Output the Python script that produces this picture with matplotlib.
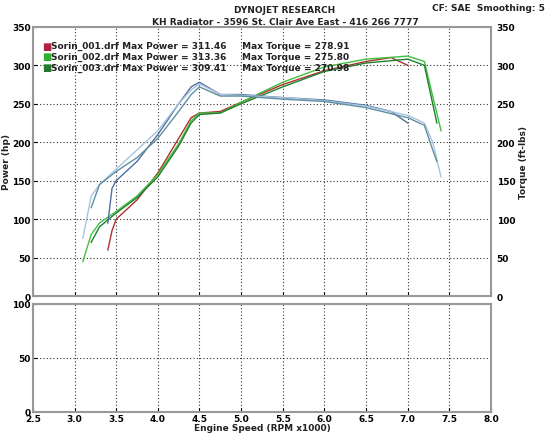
import matplotlib
matplotlib.use("Agg")
import matplotlib.pyplot as plt
import numpy as np

rpm1 = [3.4, 3.45, 3.5, 3.75, 4.0, 4.25, 4.4, 4.5, 4.75, 5.0, 5.5, 6.0, 6.5, 6.8, 7.0]
pw1 = [60, 85, 100, 125, 160, 205, 232, 238, 240, 252, 275, 293, 305, 310, 300]
rpm2 = [3.1, 3.2, 3.3, 3.5, 3.75, 4.0, 4.25, 4.4, 4.5, 4.75, 5.0, 5.5, 6.0, 6.5, 7.0, 7.2, 7.3, 7.4]
pw2 = [45, 80, 95, 110, 130, 158, 198, 228, 238, 238, 252, 278, 298, 308, 312, 305, 260, 215]
rpm3 = [3.2, 3.3, 3.5, 3.75, 4.0, 4.25, 4.4, 4.5, 4.75, 5.0, 5.5, 6.0, 6.5, 7.0, 7.2, 7.3, 7.35]
pw3 = [70, 90, 108, 128, 155, 195, 225, 236, 238, 250, 272, 292, 303, 308, 300, 250, 225]

tq1 = [95, 140, 150, 175, 210, 250, 272, 278, 262, 262, 258, 255, 248, 240, 225]
tq2 = [75, 130, 145, 165, 190, 215, 250, 268, 276, 262, 261, 258, 254, 247, 235, 225, 200, 155]
tq3 = [115, 145, 162, 180, 205, 240, 262, 272, 260, 260, 256, 253, 245, 232, 222, 190, 175]

legend_lines = ["Sorin_001.drf Max Power = 311.46     Max Torque = 278.91",
                "Sorin_002.drf Max Power = 313.36     Max Torque = 275.80",
                "Sorin_003.drf Max Power = 309.41     Max Torque = 270.98"]
leg_colors = ["#b02040", "#30b030", "#207a30"]

fig = plt.figure(figsize=(5.48, 4.35), dpi=100)
font = dict(fontsize=6.5, fontweight='bold', color='#222222')
ax = fig.add_axes([0.06, 0.317, 0.836, 0.619])
ax2 = ax.twinx()
axb = fig.add_axes([0.06, 0.051, 0.836, 0.248])

for a in (ax, axb):
    a.set_xlim(2.5, 8.0)
    a.set_xticks(np.arange(2.5, 8.01, 0.5))
    a.grid(True, linestyle=(0, (1, 2)), color='#333333', linewidth=0.8)
    for s in a.spines.values():
        s.set_color('#999999'); s.set_linewidth(1.5)
    a.tick_params(labelsize=6.5, length=3, direction='in', pad=1.5)
    for lab in a.get_yticklabels() + a.get_xticklabels():
        lab.set_fontweight('bold')

ax.set_ylim(0, 350); ax2.set_ylim(0, 350)
ax.set_yticks(range(0, 351, 50)); ax2.set_yticks(range(0, 351, 50))
ax.set_xticklabels([])
ax2.tick_params(labelsize=6.5, length=0, pad=4)
for lab in ax2.get_yticklabels() + ax.get_yticklabels():
    lab.set_fontweight('bold')
ax.set_ylabel("Power (hp)", labelpad=1, **font)
ax2.set_ylabel("Torque (ft-lbs)", labelpad=3, **font)
for s in ax2.spines.values():
    s.set_visible(False)

axb.set_ylim(0, 100); axb.set_yticks([0, 50, 100])
axb.set_xticklabels([f"{v:.1f}" for v in np.arange(2.5, 8.01, 0.5)])
axb.set_xlabel("Engine Speed (RPM x1000)", labelpad=0, **font)

ax.plot(rpm1, pw1, color='#b03030', lw=1)
ax.plot(rpm2, pw2, color='#40c040', lw=1)
ax.plot(rpm3, pw3, color='#208030', lw=1)
ax.plot(rpm1, tq1, color='#4f6fa0', lw=1)
ax.plot(rpm2, tq2, color='#a8c4e0', lw=1)
ax.plot(rpm3, tq3, color='#6090a0', lw=1)

for i, (t, c) in enumerate(zip(legend_lines, leg_colors)):
    y = 0.93 - i * 0.04
    ax.text(0.02, y, "\u25A0", color=c, transform=ax.transAxes, fontsize=7, va='center')
    ax.text(0.04, y, t, transform=ax.transAxes, va='center', **font)

fig.text(0.52, 0.975, "DYNOJET RESEARCH", ha='center', va='center', **font)
fig.text(0.52, 0.948, "KH Radiator - 3596 St. Clair Ave East - 416 266 7777", ha='center', va='center', **font)
fig.text(0.995, 0.99, "CF: SAE  Smoothing: 5", ha='right', va='top', **font)

fig.savefig("out.png", dpi=100)
